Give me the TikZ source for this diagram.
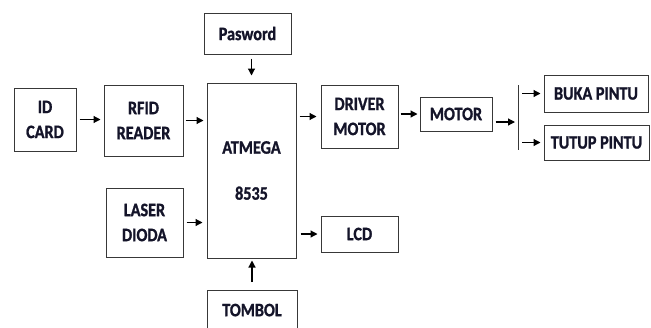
\documentclass[tikz,border=0pt]{standalone}
\usepackage{fontspec}
\setmainfont{Carlito}[FakeStretch=0.85,FakeBold=1.2]
\usetikzlibrary{arrows.meta,calc}
\definecolor{txt}{rgb}{0.08,0.08,0.16}
\definecolor{edge}{rgb}{0.22,0.22,0.22}
\begin{document}
\begin{tikzpicture}[x=1pt,y=-1pt,
  blk/.style={draw=edge,line width=1pt,inner sep=0pt,align=center,text=txt,
    font=\fontsize{19}{25}\selectfont\bfseries},
  arr/.style={draw=black,line width=1.2pt,-{Triangle[length=7pt,width=7pt]},
    shorten <=3pt,shorten >=3pt}]
\useasboundingbox (0,0) rectangle (651,327);
\node[blk,minimum width=62pt,minimum height=63pt] (id) at (45,119.5) {ID\\CARD};
\node[blk,minimum width=79pt,minimum height=71pt] (rfid) at (143.5,120.5) {RFID\\READER};
\node[blk,minimum width=89pt,minimum height=175pt] (atm) at (251.5,170.5) {\raisebox{3pt}{ATMEGA}\\[18pt]8535};
\node[blk,minimum width=87pt,minimum height=41pt] (pas) at (247.5,33.5) {Pasword};
\node[blk,minimum width=77pt,minimum height=63pt] (drv) at (359.5,116.5) {DRIVER\\MOTOR};
\node[blk,minimum width=72pt,minimum height=34pt] (mot) at (456,114) {MOTOR};
\node[blk,minimum width=104pt,minimum height=37pt] (buka) at (596,93.5) {BUKA PINTU};
\node[blk,minimum width=105pt,minimum height=35pt] (tutup) at (596.5,142.5) {TUTUP PINTU};
\node[blk,minimum width=77pt,minimum height=69pt] (laser) at (144.5,222.5) {LASER\\DIODA};
\node[blk,minimum width=77pt,minimum height=36pt] (lcd) at (359.5,234) {LCD};
\node[blk,minimum width=90pt,minimum height=44pt,anchor=north] (tom) at (252,290) {\raisebox{5pt}{TOMBOL}};
\coordinate (stop) at (518,85);
\coordinate (sbot) at (518,150);
\coordinate (split) at (518,122);
\draw[edge,line width=1pt] (stop) -- (sbot);
\draw[arr] (id.east) -- (id.east -| rfid.west);
\draw[arr,shorten <=2pt] (rfid.east) -- (rfid.east -| atm.west);
\draw[arr,shorten >=4pt] (atm.east |- drv.west) -- (drv.west);
\draw[arr,shorten <=2pt,shorten >=2pt] (drv.east |- mot.west) -- (mot.west);
\draw[arr] (mot.east |- split) -- (split);
\draw[arr,shorten <=4pt] (split |- buka.west) -- (buka.west);
\draw[arr,shorten <=4pt] (split |- tutup.west) -- (tutup.west);
\draw[arr,shorten >=4pt] (laser.east) -- (laser.east -| atm.west);
\draw[arr,shorten <=4pt] (atm.east |- lcd.west) -- (lcd.west);
\draw[arr,shorten <=4pt,shorten >=7pt] (pas.south -| atm.north) -- (atm.north);
\draw[arr,shorten <=8pt,shorten >=2pt] (tom.north) -- (tom.north |- atm.south);
\end{tikzpicture}
\end{document}
